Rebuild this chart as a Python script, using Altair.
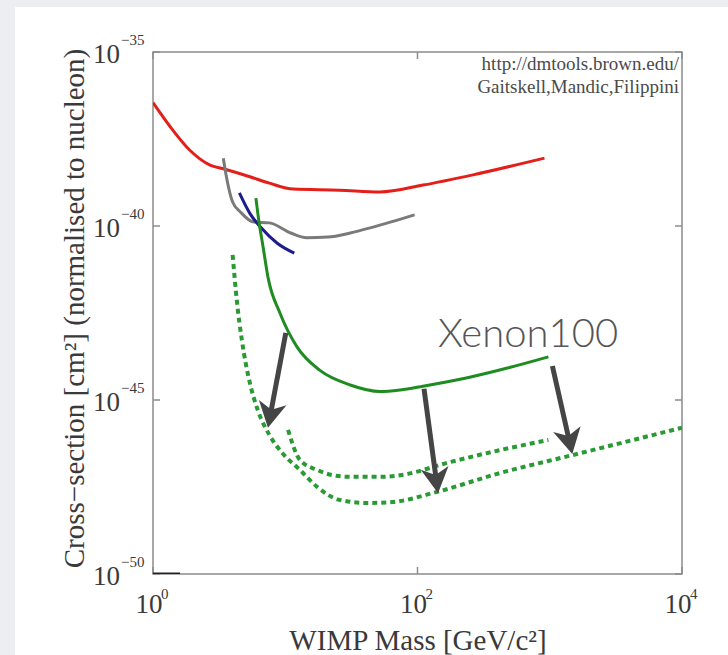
import altair as alt
import pandas as pd

W, H = 529, 522

# ---------------- data ----------------
red_mass = [1.0, 1.35, 1.9, 2.7, 3.4, 5.4, 7.6, 11.5, 25.7, 52, 110, 263, 912]
red_sigma = [3.5e-37, 7.1e-38, 1.5e-38, 5.6e-39, 4.4e-39, 2.6e-39, 1.7e-39,
             1.15e-39, 1.07e-39, 9.5e-40, 1.5e-39, 2.95e-39, 8.9e-39]

gray_mass = [3.4, 3.55, 4.0, 4.6, 5.75, 7.6, 11, 14.5, 21, 31, 46, 95]
gray_sigma = [8.9e-39, 3.3e-39, 4.9e-40, 2.5e-40, 1.3e-40, 1.23e-40, 6.3e-41,
              4.6e-41, 4.8e-41, 6.3e-41, 9.3e-41, 2.1e-40]

blue_mass = [4.5, 5.4, 6.5, 8.7, 11.7]
blue_sigma = [8.9e-40, 2.3e-40, 9.3e-41, 3.2e-41, 1.66e-41]

xenon_mass = [6.0, 6.3, 6.8, 7.4, 9.1, 12.3, 18.2, 31, 52, 74, 110, 234, 479, 977]
xenon_sigma = [6.3e-40, 1.48e-40, 2.5e-41, 3.4e-42, 3.2e-43, 3.3e-44, 7.2e-45,
               2.7e-45, 1.75e-45, 1.95e-45, 2.5e-45, 4.3e-45, 8.3e-45, 1.74e-44]

proj_low_mass = [4.0, 4.3, 4.7, 5.4, 6.2, 7.6, 9.5, 12.9, 17.4, 25.7, 41.7,
                 64.6, 141, 417, 1480, 4270, 10000]
proj_low_sigma = [1.48e-41, 7.4e-43, 5.2e-44, 3.1e-45, 5.1e-46, 9.8e-47, 3.0e-47,
                  9.8e-48, 3.2e-48, 1.35e-48, 1.1e-48, 1.17e-48, 2.3e-48,
                  7.9e-48, 2.6e-47, 7.1e-47, 1.6e-46]

proj_up_mass = [10.5, 12.9, 17.4, 22.9, 31, 52, 74, 178, 417, 977]
proj_up_sigma = [1.38e-46, 1.9e-47, 9.8e-48, 6.9e-48, 6.2e-48, 6.2e-48, 6.9e-48,
                 1.66e-47, 3.6e-47, 7.1e-47]

floor_mass = [1.0, 1.6]
floor_sigma = [1e-50, 1e-50]

arrow_start_mass = [10.1, 112, 1047]
arrow_start_sigma = [8.5e-44, 2.1e-45, 9.5e-45]
arrow_tip_mass = [7.4, 143, 1480]
arrow_tip_sigma = [1.6e-46, 2.1e-48, 2.8e-47]
arrow_angle = [10.7, 352.3, 347.8]

x_ticks = [1, 100, 10000]
x_exp = ["0", "2", "4"]
y_ticks = [1e-50, 1e-45, 1e-40, 1e-35]
y_exp = ["\u221250", "\u221245", "\u221240", "\u221235"]

annot_mass = [685]
annot_sigma = [3.3e-44]
annot_text = ["Xenon100"]

credit_lines = ["http://dmtools.brown.edu/", "Gaitskell,Mandic,Filippini"]

# ---------------- build tables ----------------
def series(name, mass, sigma):
    return pd.DataFrame({"series": name, "mass": mass, "sigma": sigma})

solid = pd.concat([
    series("red", red_mass, red_sigma),
    series("gray", gray_mass, gray_sigma),
    series("blue", blue_mass, blue_sigma),
    series("xenon", xenon_mass, xenon_sigma),
    series("floor", floor_mass, floor_sigma),
])
dotted = pd.concat([
    series("low", proj_low_mass, proj_low_sigma),
    series("up", proj_up_mass, proj_up_sigma),
])

frac = 0.12  # shaft stops a bit before the tip (head covers the rest)
arrows = pd.DataFrame({
    "mass": arrow_start_mass, "sigma": arrow_start_sigma,
    "mass2": [t * (s / t) ** frac for s, t in zip(arrow_start_mass, arrow_tip_mass)],
    "sigma2": [t * (s / t) ** frac for s, t in zip(arrow_start_sigma, arrow_tip_sigma)],
})
heads = pd.DataFrame({"mass": arrow_tip_mass, "sigma": arrow_tip_sigma, "angle": arrow_angle})

xt = pd.DataFrame({"mass": x_ticks, "exp": x_exp})
yt = pd.DataFrame({"sigma": y_ticks, "exp": y_exp})
annot = pd.DataFrame({"mass": annot_mass, "sigma": annot_sigma, "text": annot_text})
one = pd.DataFrame({"a": [0]})

# ---------------- scales / axes ----------------
SERIF = "Liberation Serif"
TXT = "#3a3a3a"
xs = alt.Scale(type="log", domain=[1, 10000])
ys = alt.Scale(type="log", domain=[1e-50, 1e-35])
xaxis = alt.Axis(labels=False, ticks=False, domain=False, grid=False,
                 title="WIMP Mass [GeV/c²]", titleFont=SERIF, titleFontSize=29,
                 titleFontWeight="normal", titleColor=TXT,
                 titleX=W / 2, titleY=66, titleBaseline="middle", titleAlign="center")
yaxis = alt.Axis(labels=False, ticks=False, domain=False, grid=False,
                 title="Cross\u2212section [cm²] (normalised to nucleon)", titleFont=SERIF,
                 titleFontSize=29, titleFontWeight="normal", titleColor=TXT,
                 titleX=-79, titleY=256, titleAngle=270, titleBaseline="middle",
                 titleAlign="center")
X = alt.X("mass:Q", scale=xs, axis=xaxis)
Y = alt.Y("sigma:Q", scale=ys, axis=yaxis)

# ---------------- layers ----------------
bg_top = alt.Chart(one).mark_rect(color="#eceef1").encode(
    x=alt.value(-153), x2=alt.value(W + 46), y=alt.value(-52), y2=alt.value(-45))
bg_left = alt.Chart(one).mark_rect(color="#eceef1").encode(
    x=alt.value(-153), x2=alt.value(-138), y=alt.value(-52), y2=alt.value(H + 81))

tick_col = "#8c8c8c"
xtick_b = alt.Chart(xt).mark_rule(color=tick_col, strokeWidth=1.5).encode(
    x=X, y=alt.value(H), y2=alt.value(H - 7))
xtick_t = alt.Chart(xt).mark_rule(color=tick_col, strokeWidth=1.5).encode(
    x=X, y=alt.value(0), y2=alt.value(7))
ytick_l = alt.Chart(yt).mark_rule(color=tick_col, strokeWidth=1.5).encode(
    y=Y, x=alt.value(0), x2=alt.value(7))
ytick_r = alt.Chart(yt).mark_rule(color=tick_col, strokeWidth=1.5).encode(
    y=Y, x=alt.value(W - 7), x2=alt.value(W))

x10 = alt.Chart(xt).mark_text(font=SERIF, fontSize=27, color=TXT, align="center",
                              baseline="middle", dx=-4).encode(
    x=X, y=alt.value(H + 31), text=alt.value("10"))
xexp = alt.Chart(xt).mark_text(font=SERIF, fontSize=15, color=TXT, align="left",
                               baseline="middle", dx=8).encode(
    x=X, y=alt.value(H + 20), text="exp:N")
y10 = alt.Chart(yt).mark_text(font=SERIF, fontSize=27, color=TXT, align="right",
                              baseline="middle", dy=3).encode(
    y=Y, x=alt.value(-33), text=alt.value("10"))
yexp = alt.Chart(yt).mark_text(font=SERIF, fontSize=15, color=TXT, align="left",
                               baseline="middle", dy=-12).encode(
    y=Y, x=alt.value(-32), text="exp:N")

dots = alt.Chart(dotted).mark_line(color="#2a9a34", strokeWidth=4, strokeDash=[5, 4],
                                   strokeCap="butt", clip=True, interpolate="monotone").encode(
    x=X, y=Y, detail="series:N")
lines = alt.Chart(solid).mark_line(strokeWidth=3, clip=True, interpolate="monotone").encode(
    x=X, y=Y, detail="series:N",
    color=alt.Color("series:N", legend=None,
                    scale=alt.Scale(domain=["red", "gray", "blue", "xenon", "floor"],
                                    range=["#e41f1a", "#7a7a7a", "#1c1c8c", "#1f8c22", "#222222"])))

shafts = alt.Chart(arrows).mark_rule(color="#454545", strokeWidth=5).encode(
    x=X, y=Y, x2="mass2:Q", y2="sigma2:Q")
arrow_heads = alt.Chart(heads).mark_point(
    shape="M0,0L-0.55,-1L0,-0.72L0.55,-1Z", size=2600, filled=True, opacity=1,
    color="#454545").encode(x=X, y=Y, angle=alt.Angle("angle:Q", scale=None))

label = alt.Chart(annot).mark_text(font="Lato", fontSize=40, fontWeight=300, color="#555555",
                                   align="center", baseline="alphabetic").encode(
    x=X, y=Y, text="text:N")

credit1 = alt.Chart(one).mark_text(font=SERIF, fontSize=19, color="#4a4a4a", align="right",
                                   baseline="middle", text=credit_lines[0]).encode(
    x=alt.value(W - 3), y=alt.value(12))
credit2 = alt.Chart(one).mark_text(font=SERIF, fontSize=19, color="#4a4a4a", align="right",
                                   baseline="middle", text=credit_lines[1]).encode(
    x=alt.value(W - 3), y=alt.value(35))

chart = alt.layer(
    bg_top, bg_left, xtick_b, xtick_t, ytick_l, ytick_r, x10, xexp, y10, yexp,
    dots, lines, shafts, arrow_heads, label, credit1, credit2
).properties(
    width=W, height=H,
    autosize=alt.AutoSizeParams(type="none"),
    padding={"left": 153, "top": 52, "right": 46, "bottom": 81},
    background="white",
).configure_view(stroke="#8c8c8c", strokeWidth=1.5)

chart.save("out.html", embed_options={"renderer": "svg", "actions": False})
